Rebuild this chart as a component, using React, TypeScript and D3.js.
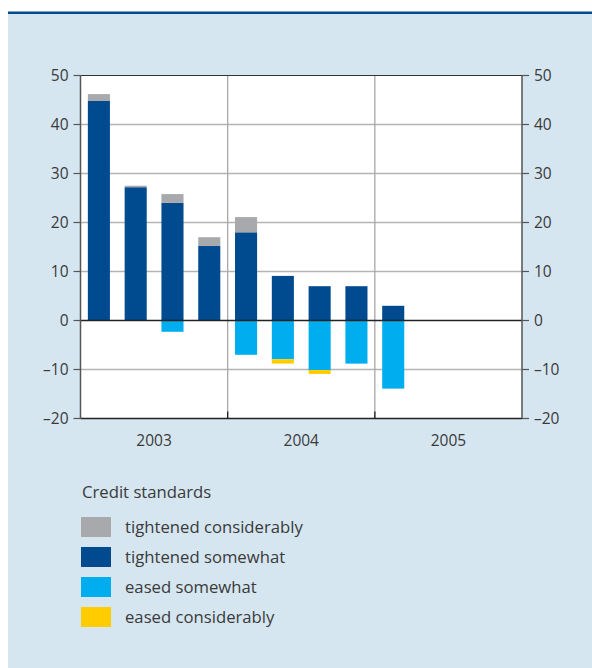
import React from "react";
import * as d3 from "d3";

const quarters = ["2003Q1","2003Q2","2003Q3","2003Q4","2004Q1","2004Q2","2004Q3","2004Q4","2005Q1","2005Q2","2005Q3","2005Q4"];
const years = ["2003", "2004", "2005"];
const tightenedConsiderably = [1.4, 0.3, 1.8, 1.8, 3.1, 0, 0, 0, 0, 0, 0, 0];
const tightenedSomewhat = [44.8, 27.2, 24.0, 15.2, 18.0, 9.1, 7.0, 7.0, 3.0, 0, 0, 0];
const easedSomewhat = [0, 0, -2.3, 0, -7.0, -7.9, -10.1, -8.8, -13.9, 0, 0, 0];
const easedConsiderably = [0, 0, 0, 0, 0, -0.9, -0.8, 0, 0, 0, 0, 0];
const yTicks = [-20, -10, 0, 10, 20, 30, 40, 50];
const legendLabels = ["tightened considerably", "tightened somewhat", "eased somewhat", "eased considerably"];
const legendTitle = "Credit standards";

const COLORS = ["#a7a9ac", "#004a8f", "#00aeef", "#ffcc00"];
const FONT = "'Open Sans', 'Noto Sans', sans-serif";
const TXT = "#3a3a3a";

export default function App() {
  const left = 80.5, right = 522, top = 75.5, bottom = 418.5;
  const x = d3.scaleBand().domain(quarters).range([left, right]).paddingInner(0.4).paddingOuter(0.2);
  const xYear = d3.scaleBand().domain(years).range([left, right]);
  const y = d3.scaleLinear().domain([-20, 50]).range([bottom, top]);
  const fmt = (v: number) => (v < 0 ? "\u2013" + Math.abs(v) : String(v));

  const rects: JSX.Element[] = [];
  quarters.forEach((q, i) => {
    const bx = x(q)!;
    const w = x.bandwidth();
    const ts = tightenedSomewhat[i], tc = tightenedConsiderably[i];
    const es = easedSomewhat[i], ec = easedConsiderably[i];
    if (ts > 0) rects.push(<rect key={"ts" + i} x={bx} width={w} y={y(ts)} height={y(0) - y(ts)} fill={COLORS[1]} />);
    if (tc > 0) rects.push(<rect key={"tc" + i} x={bx} width={w} y={y(ts + tc)} height={y(ts) - y(ts + tc)} fill={COLORS[0]} />);
    if (es < 0) rects.push(<rect key={"es" + i} x={bx} width={w} y={y(0)} height={y(es) - y(0)} fill={COLORS[2]} />);
    if (ec < 0) rects.push(<rect key={"ec" + i} x={bx} width={w} y={y(es)} height={y(es + ec) - y(es)} fill={COLORS[3]} />);
  });

  return (
    <svg width={592} height={668} style={{ position: "absolute", left: 0, top: 0 }} fontFamily={FONT}>
      <rect x={8} y={13} width={584} height={655} fill="#d5e6f0" />
      <rect x={8} y={11.5} width={584} height={2.5} fill="#004a8f" />
      <rect x={left} y={top} width={right - left} height={bottom - top} fill="#ffffff" />
      {yTicks.filter(t => t !== 0 && t !== 50 && t !== -20).map(t => (
        <line key={"g" + t} x1={left} x2={right} y1={y(t)} y2={y(t)} stroke="#b4b4b4" strokeWidth={1.3} />
      ))}
      {years.slice(1).map(yr => (
        <line key={"v" + yr} x1={xYear(yr)} x2={xYear(yr)} y1={top} y2={bottom} stroke="#a8a8a8" strokeWidth={1.3} />
      ))}
      {rects}
      <line x1={left} x2={right} y1={y(0)} y2={y(0)} stroke="#222" strokeWidth={1.5} />
      <line x1={left} x2={right} y1={top} y2={top} stroke="#333" strokeWidth={1.2} />
      <line x1={left} x2={right} y1={bottom} y2={bottom} stroke="#222" strokeWidth={1.5} />
      <line x1={left} x2={left} y1={top} y2={bottom} stroke="#555" strokeWidth={1.5} />
      <line x1={right} x2={right} y1={top} y2={bottom} stroke="#555" strokeWidth={1.5} />
      {years.slice(1).map(yr => (
        <line key={"bt" + yr} x1={xYear(yr)} x2={xYear(yr)} y1={bottom - 7} y2={bottom} stroke="#222" strokeWidth={1.3} />
      ))}
      {yTicks.map(t => (
        <g key={"t" + t}>
          <line x1={left - 7} x2={left} y1={y(t)} y2={y(t)} stroke="#555" strokeWidth={1.2} />
          <line x1={right} x2={right + 7} y1={y(t)} y2={y(t)} stroke="#555" strokeWidth={1.2} />
          <text x={left - 12} y={y(t)} dy="0.35em" textAnchor="end" fontSize={15.5} fill={TXT}>{fmt(t)}</text>
          <text x={right + 12} y={y(t)} dy="0.35em" textAnchor="start" fontSize={15.5} fill={TXT}>{fmt(t)}</text>
        </g>
      ))}
      {years.map(yr => (
        <text key={"yl" + yr} x={xYear(yr)! + xYear.bandwidth() / 2} y={446} textAnchor="middle" fontSize={15.5} fill={TXT}>{yr}</text>
      ))}
      <text x={82} y={498} fontSize={16.7} fill={TXT}>{legendTitle}</text>
      {legendLabels.map((l, i) => (
        <g key={"l" + i}>
          <rect x={81} y={517 + i * 30} width={30} height={20} fill={COLORS[i]} />
          <text x={125} y={532.5 + i * 30} fontSize={16.7} fill={TXT}>{l}</text>
        </g>
      ))}
    </svg>
  );
}
